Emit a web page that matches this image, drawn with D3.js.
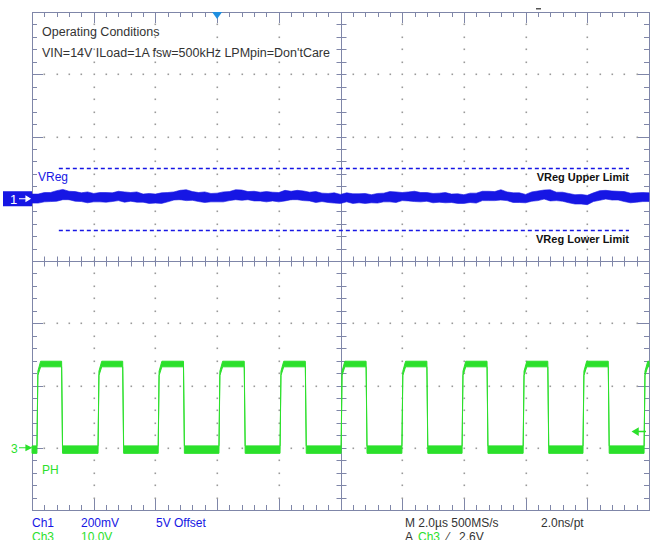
<!DOCTYPE html>
<html><head><meta charset="utf-8">
<script src="https://cdn.jsdelivr.net/npm/d3@7"></script>
<style>
html,body{margin:0;padding:0;background:#fff;}
svg{display:block;font-family:"Liberation Sans",Arial,sans-serif;}
</style>
</head><body>
<svg id="c" width="650" height="540"></svg>
<script>
// ---------------- data ----------------
const timePerDivUs = 2.0;          // M 2.0µs
const divsX = 10, divsY = 8;
const ch1MvPerDiv = 200;           // Ch1 200mV (5V offset)
const ch1PositionDiv = 1;
const ch3VPerDiv = 10;             // Ch3 10.0V
const ch3PositionDiv = -3;
const ch1SampleStepUs = 0.2;

// Ch1 (VReg) noise envelope, mV relative to the 5 V offset
const ch1HighMv = [15,15,20,20,26,30,24,23,19,22,17,20,20,19,24,22,20,22,15,17,
  15,19,20,22,27,29,23,20,22,17,18,22,23,29,28,23,24,21,23,21,
  20,27,24,27,25,21,23,18,17,19,14,19,16,16,17,13,17,18,23,22,
  20,22,24,20,20,17,18,20,15,16,13,18,18,24,24,23,29,22,19,19,
  14,22,25,28,29,21,21,17,13,14,11,19,26,27,25,24,23,18,19,20,19];
const ch1LowMv = [-14,-14,-10,-9,-8,-3,-3,-8,-9,-13,-10,-10,-11,-9,-6,-11,-8,-11,-11,-15,
  -14,-15,-10,-4,-3,-6,-5,-9,-12,-10,-10,-10,-6,-3,-5,-3,-7,-7,-10,-7,
  -10,-7,-3,-3,-6,-7,-12,-9,-12,-14,-15,-10,-15,-13,-15,-13,-14,-10,-10,-12,
  -6,-7,-9,-10,-8,-13,-11,-13,-12,-15,-15,-12,-14,-6,-6,-6,-4,-6,-12,-12,
  -13,-8,-6,-1,-7,-6,-8,-13,-17,-17,-19,-9,-5,-1,-4,-4,-9,-13,-11,-9,-9];

const vregLimitsMv = [100, -100];
const vregLimitLabels = ["VReg Upper Limit", "VReg Lower Limit"];
const limitSpanUs = [0.87, 19.35];

// Ch3 (PH) switch node square wave
const ch3RiseUs = [0.16, 2.14, 4.09, 6.06, 8.04, 10.02, 11.99, 13.94, 15.92, 17.86, 19.84];
const ch3FallUs = [0.96, 2.94, 4.91, 6.88, 8.86, 10.83, 12.80, 14.75, 16.72, 18.68];
const ch3HighBandV = [13.0, 13.9];
const ch3LowBandV = [-0.9, 0.3];
const ch3CornerBandV = [11.6, 12.3];

const triggerTimeUs = 6.0;
const triggerLevelV = 2.6;

const infoLines = ["Operating Conditions", "VIN=14V ILoad=1A fsw=500kHz LPMpin=Don'tCare"];
const traceLabels = ["VReg", "PH"];
const statusCh1 = ["Ch1", "200mV", "5V Offset"];
const statusCh3 = ["Ch3", "10.0V"];
const statusTime = ["M 2.0µs 500MS/s", "2.0ns/pt"];
const statusTrig = ["A", "Ch3", "⁄", "2.6V"];

// ---------------- drawing ----------------
const BLUE = "#1616e4", GREEN = "#2be02b", GRID = "#7f86a8", DOT = "#9a9a9a", TEXT = "#333";
const svg = d3.select("#c");
const x = d3.scaleLinear().domain([0, divsX * timePerDivUs]).range([32, 649]);
const xDiv = d3.scaleLinear().domain([0, divsX]).range([32, 649]);
const yDiv = d3.scaleLinear().domain([-divsY / 2, divsY / 2]).range([510, 12]);
const yCh1 = mv => yDiv(ch1PositionDiv + mv / ch1MvPerDiv);
const yCh3 = v => yDiv(ch3PositionDiv + v / ch3VPerDiv);
const px = v => Math.round(v) + 0.5;

const g = svg.append("g");
const L = xDiv(0), R = xDiv(divsX), T = yDiv(divsY / 2), B = yDiv(-divsY / 2);
const XC = xDiv(divsX / 2), YC = yDiv(0);

// dotted grid
const dots = [];
for (let i = 1; i < divsX; i++) {
  if (i === divsX / 2) continue;
  for (let k = 1; k < divsY * 5; k++) dots.push([xDiv(i), yDiv(-divsY / 2 + k / 5)]);
}
for (let j = -divsY / 2 + 1; j < divsY / 2; j++) {
  if (j === 0) continue;
  for (let k = 1; k < divsX * 5; k++) if (k % 5 !== 0) dots.push([xDiv(k / 5), yDiv(j)]);
}
g.selectAll("rect.dot").data(dots).join("rect").attr("class", "dot")
  .attr("x", d => Math.round(d[0]) - 0.5).attr("y", d => Math.round(d[1]) - 0.5)
  .attr("width", 1.6).attr("height", 1.6).attr("fill", DOT);

// border
g.append("rect").attr("x", px(L)).attr("y", px(T)).attr("width", Math.round(R - L)).attr("height", Math.round(B - T))
  .attr("fill", "none").attr("stroke", GRID).attr("stroke-width", 1);
// center cross
g.append("line").attr("x1", px(XC)).attr("x2", px(XC)).attr("y1", T).attr("y2", B).attr("stroke", GRID);
g.append("line").attr("x1", L).attr("x2", R).attr("y1", px(YC)).attr("y2", px(YC)).attr("stroke", GRID);

const ticks = [];
for (let k = 1; k < divsX * 5; k++) {
  const xx = px(xDiv(k / 5)), major = k % 5 === 0, len = major ? 11 : 5;
  ticks.push([xx, T, xx, T + len]);
  ticks.push([xx, B, xx, B - len]);
  ticks.push([xx, px(YC) - 5, xx, px(YC) + 5]);
}
for (let k = 1; k < divsY * 5; k++) {
  const yy = px(yDiv(-divsY / 2 + k / 5)), major = k % 5 === 0, len = major ? 11 : 5;
  ticks.push([L, yy, L + len, yy]);
  ticks.push([R, yy, R - len, yy]);
  ticks.push([px(XC) - 5, yy, px(XC) + 5, yy]);
}
g.selectAll("line.tk").data(ticks).join("line").attr("class", "tk")
  .attr("x1", d => d[0]).attr("y1", d => d[1]).attr("x2", d => d[2]).attr("y2", d => d[3])
  .attr("stroke", GRID).attr("stroke-width", 1);

// info text
svg.selectAll("text.info").data(infoLines).join("text").attr("class", "info")
  .attr("x", 42).attr("y", (d, i) => 36 + i * 21).attr("font-size", 12.5).attr("fill", TEXT).text(d => d);

// limit lines
svg.selectAll("line.lim").data(vregLimitsMv).join("line").attr("class", "lim")
  .attr("x1", x(limitSpanUs[0])).attr("x2", x(limitSpanUs[1]))
  .attr("y1", d => px(yCh1(d))).attr("y2", d => px(yCh1(d)))
  .attr("stroke", BLUE).attr("stroke-width", 1.4).attr("stroke-dasharray", "4,3");
svg.selectAll("text.lim").data(vregLimitsMv).join("text").attr("class", "lim")
  .attr("x", x(limitSpanUs[1])).attr("y", d => yCh1(d) + 13)
  .attr("text-anchor", "end").attr("font-size", 11).attr("font-weight", "bold").attr("fill", "#111")
  .text((d, i) => vregLimitLabels[i]);

// Ch1 trace
const ch1 = ch1HighMv.map((h, i) => ({ t: i * ch1SampleStepUs, hi: h, lo: ch1LowMv[i] }));
svg.append("path").datum(ch1)
  .attr("d", d3.area().x(d => x(d.t)).y0(d => yCh1(d.lo)).y1(d => yCh1(d.hi)))
  .attr("fill", BLUE).attr("stroke", BLUE).attr("stroke-width", 0.6);

// Ch3 trace
const pts = [{ t: 0, lo: ch3LowBandV[0], hi: ch3LowBandV[1] }];
ch3RiseUs.forEach((r, i) => {
  pts.push({ t: r, lo: ch3LowBandV[0], hi: ch3LowBandV[1] });
  pts.push({ t: r + 0.03, lo: ch3CornerBandV[0], hi: ch3CornerBandV[1] });
  pts.push({ t: r + 0.12, lo: ch3HighBandV[0], hi: ch3HighBandV[1] });
  if (i < ch3FallUs.length) {
    pts.push({ t: ch3FallUs[i], lo: ch3HighBandV[0], hi: ch3HighBandV[1] });
    pts.push({ t: ch3FallUs[i] + 0.03, lo: ch3LowBandV[0], hi: ch3LowBandV[1] });
  }
});
pts.push({ t: divsX * timePerDivUs, lo: ch3HighBandV[0], hi: ch3HighBandV[1] });
svg.append("path").datum(pts)
  .attr("d", d3.area().x(d => x(d.t)).y0(d => yCh3(d.lo)).y1(d => yCh3(d.hi)))
  .attr("fill", GREEN).attr("stroke", GREEN).attr("stroke-width", 1);

// trace labels
svg.append("text").attr("x", 38).attr("y", yCh1(0) - 18).attr("font-size", 12).attr("fill", BLUE).text(traceLabels[0]);
svg.append("text").attr("x", 42).attr("y", yCh3(0) + 26).attr("font-size", 12).attr("fill", GREEN).text(traceLabels[1]);

// Ch1 marker
const y1m = yCh1(0);
svg.append("rect").attr("x", 3).attr("y", y1m - 7.5).attr("width", L - 3).attr("height", 15).attr("fill", BLUE);
svg.append("text").attr("x", 10).attr("y", y1m + 5).attr("font-size", 13).attr("fill", "#fff").text("1");
svg.append("path").attr("d", `M19,${y1m}H29M26,${y1m - 2.5}L30,${y1m}L26,${y1m + 2.5}Z`)
  .attr("stroke", "#fff").attr("fill", "#fff").attr("stroke-width", 1.2);
// Ch3 marker
const y3m = yCh3(0);
svg.append("text").attr("x", 11).attr("y", y3m + 5).attr("font-size", 12).attr("fill", GREEN).text("3");
svg.append("path").attr("d", `M19,${y3m}H29M26,${y3m - 2.5}L31,${y3m}L26,${y3m + 2.5}Z`)
  .attr("stroke", GREEN).attr("fill", GREEN).attr("stroke-width", 1.2);

// trigger position marker (top)
const tx = x(triggerTimeUs);
svg.append("path").attr("d", `M${tx - 5},${T}L${tx + 5},${T}L${tx},${T + 7}Z`).attr("fill", "#1f8fe0");
svg.append("rect").attr("x", 536).attr("y", 8).attr("width", 5).attr("height", 1.5).attr("fill", "#555");
// trigger level marker (right)
const ty = yCh3(triggerLevelV);
svg.append("path").attr("d", `M${R - 3},${ty}H${R - 15}M${R - 11},${ty - 3}L${R - 16},${ty}L${R - 11},${ty + 3}Z`)
  .attr("stroke", GREEN).attr("fill", GREEN).attr("stroke-width", 1.5);

// status bar
const sb = svg.append("g").attr("font-size", 12);
const c1x = [32, 81, 156];
statusCh1.forEach((s, i) => sb.append("text").attr("x", c1x[i]).attr("y", 527).attr("fill", BLUE).text(s));
statusCh3.forEach((s, i) => sb.append("text").attr("x", c1x[i]).attr("y", 541).attr("fill", GREEN).text(s));
const tmx = [405, 541];
statusTime.forEach((s, i) => sb.append("text").attr("x", tmx[i]).attr("y", 527).attr("fill", TEXT).text(s));
const trx = [405, 418, 447, 459], trc = [TEXT, GREEN, TEXT, TEXT];
statusTrig.forEach((s, i) => sb.append("text").attr("x", trx[i]).attr("y", 541).attr("fill", trc[i]).text(s));
</script>
</body></html>
